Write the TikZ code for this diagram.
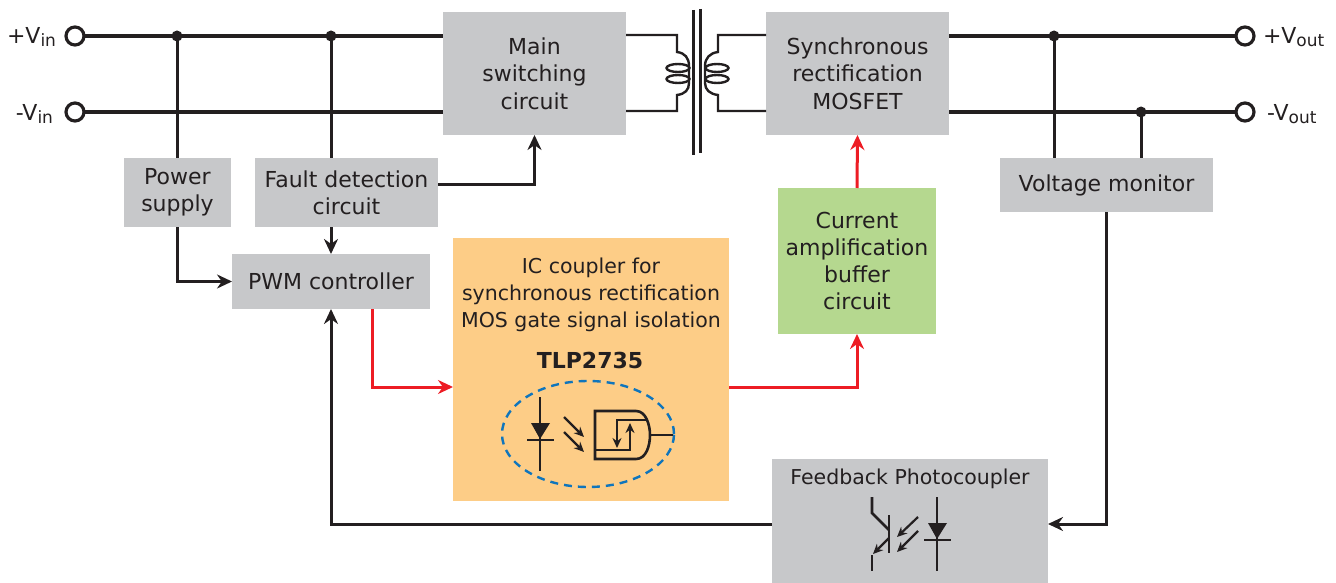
\documentclass[tikz,border=0pt]{standalone}
\usepackage{fontspec}
\setmainfont{DejaVu Sans}
\usetikzlibrary{arrows.meta,calc}
\definecolor{ink}{HTML}{231F20}
\definecolor{boxgray}{HTML}{C7C8CA}
\definecolor{boxorange}{HTML}{FDCD87}
\definecolor{boxgreen}{HTML}{B5D88F}
\definecolor{sigred}{HTML}{ED1C24}
\definecolor{dashblue}{HTML}{0F75BC}
\tikzset{
  x=1pt,y=-1pt,
  block/.style={fill=boxgray,inner sep=0pt,outer sep=0pt,align=center,text=ink,font=\fontsize{22}{27.3}\selectfont},
  txt/.style={inner sep=0pt,outer sep=0pt,align=center,text=ink,font=\fontsize{22}{27.3}\selectfont},
  rail/.style={draw=ink,line width=4pt},
  wire/.style={draw=ink,line width=3pt},
  sig/.style={draw=ink,line width=3pt,-{Stealth[length=15pt,width=14pt]}},
  redsig/.style={draw=sigred,line width=3pt,-{Stealth[length=15pt,width=14pt]}},
  term/.style={circle,draw=ink,line width=3.2pt,fill=white,minimum size=18pt,inner sep=0pt,outer sep=0pt},
  dot/.style={circle,fill=ink,minimum size=11pt,inner sep=0pt,outer sep=0pt},
  thin/.style={draw=ink,line width=2.4pt},
  icon/.style={draw=ink,line width=2.6pt},
  small/.style={draw=ink,line width=2.2pt,-{Stealth[length=10pt,width=9pt]}},
}
\newcommand{\subs}[1]{\raisebox{-3.5pt}{\fontsize{17}{17}\selectfont #1}}
\begin{document}
\begin{tikzpicture}
\useasboundingbox (0,0) rectangle (1336,583);
% blocks
\node[block,minimum width=183pt,minimum height=123pt] (main) at (534.5,73.5) {Main\\switching\\circuit};
\node[block,minimum width=183pt,minimum height=123pt] (sync) at (857.5,73.5) {Synchronous\\rectification\\MOSFET};
\node[block,minimum width=107pt,minimum height=69pt] (power) at (177.5,192.5) {Power\\supply};
\node[block,minimum width=183pt,minimum height=69pt] (fault) at (346.5,192.5) {Fault detection\\circuit};
\node[block,minimum width=198pt,minimum height=55pt] (pwm) at (331,281.5) {PWM controller};
\node[block,fill=boxorange,minimum width=276pt,minimum height=263pt] (ic) at (591,369.5) {};
\node[block,fill=boxgreen,minimum width=158pt,minimum height=146pt] (amp) at (857,261) {Current\\amplification\\buffer\\circuit};
\node[block,minimum width=213pt,minimum height=54pt] (vmon) at (1106.5,185) {Voltage monitor};
\node[block,minimum width=276pt,minimum height=124pt] (fb) at (910,521) {};
\node[txt,font=\fontsize{20.5}{27.3}\selectfont] (ictext) at (591,295) {IC coupler for\\synchronous rectification\\MOS gate signal isolation};
\node[txt,font=\fontsize{22}{27}\selectfont\bfseries] (tlp) at (590,360) {TLP2735};
\node[txt,font=\fontsize{20.5}{27}\selectfont] (fbtext) at (910,479) {Feedback Photocoupler};
% terminals and junctions
\node[term] (vinp) at (75,36) {};
\node[term] (vinn) at (75,112) {};
\node[term] (voutp) at (1245,36) {};
\node[term] (voutn) at (1245,112) {};
\node[dot] (j1) at (177,36) {};
\node[dot] (j2) at (331,36) {};
\node[dot] (j3) at (1054,36) {};
\node[dot] (j4) at (1141,112) {};
\node[txt,anchor=east] (lvinp) at (56,37) {+V\subs{in}};
\node[txt,anchor=east] (lvinn) at (53,114) {-V\subs{in}};
\node[txt,anchor=west] (lvoutp) at (1263,37) {+V\subs{out}};
\node[txt,anchor=west] (lvoutn) at (1267,114) {-V\subs{out}};
% rails
\draw[rail] (vinp) -- (main.west |- vinp);
\draw[rail] (vinn) -- (main.west |- vinn);
\draw[rail] (sync.east |- voutp) -- (voutp);
\draw[rail] (sync.east |- voutn) -- (voutn);
% wires
\draw[wire] (j1) -- (j1 |- power.north);
\draw[wire] (j2) -- (j2 |- fault.north);
\draw[wire] (j3) -- (j3 |- vmon.north);
\draw[wire] (j4) -- (j4 |- vmon.north);
\draw[sig] (j2 |- fault.south) -- (j2 |- pwm.north);
\draw[sig] (j1 |- power.south) |- (pwm.west);
\draw[sig] (fault.east |- 0,184) -| (main.south);
\draw[sig] (vmon.south) |- (fb.east |- 0,524);
\draw[sig] (fb.west |- 0,524) -| (pwm.south);
\draw[redsig] (372,309) |- (ic.west |- 0,387);
\draw[redsig] (ic.east |- 0,387) -| (amp.south);
\draw[redsig] (amp.north) -- (sync.south);
% transformer
\coordinate (tl1) at (main.east |- 0,35);
\coordinate (tl2) at (main.east |- 0,111);
\coordinate (tr1) at (sync.west |- 0,35);
\coordinate (tr2) at (sync.west |- 0,111);
\draw[draw=ink,line width=3pt] (693,10) -- (693,155);
\draw[draw=ink,line width=3pt] (700,9) -- (700,153);
\draw[thin] (tl1) -- (677,35) -- (677,52) .. controls (685,53) and (689,58) .. (689,66) -- (689,83) .. controls (689,90) and (685,94) .. (677,95) -- (677,111) -- (tl2);
\draw[thin] (tr1) -- (718,35) -- (718,52) .. controls (710,53) and (705,58) .. (705,66) -- (705,83) .. controls (705,90) and (710,94) .. (718,95) -- (718,111) -- (tr2);
\draw[thin] (678,68) ellipse (11.5pt and 4pt);
\draw[thin] (678,79) ellipse (11.5pt and 4pt);
\draw[thin] (717,68) ellipse (11.5pt and 4pt);
\draw[thin] (717,79) ellipse (11.5pt and 4pt);
% IC icon
\draw[dashblue,line width=2.4pt,dash pattern=on 8pt off 6pt] (588,434) ellipse (86pt and 53pt);
\draw[icon] (540,397) -- (540,471);
\fill[ink] (531,423) -- (550,423) -- (540,439) -- cycle;
\draw[icon] (527,440) -- (554,440);
\draw[small] (564,417) -- (584,437);
\draw[small] (564,432) -- (584,452);
\draw[icon,line join=miter] (595,411) -- (636,411) .. controls (646,411) and (650,425) .. (650,435) .. controls (650,446) and (646,459) .. (636,459) -- (595,459) -- cycle;
\draw[small] (647,420) -- (617,420) -- (617,448);
\draw[small] (595,450) -- (630,450) -- (630,423);
\draw[icon] (650,435) -- (673,435);
% feedback icon
\draw[icon] (937,497) -- (937,571);
\fill[ink] (928,523) -- (947,523) -- (937,539) -- cycle;
\draw[icon] (924,540) -- (951,540);
\draw[icon] (889,515) -- (889,553);
\draw[icon] (872,497) -- (872,513) -- (889,530);
\draw[small] (889,538) -- (873,554);
\draw[icon] (872,555) -- (872,571);
\draw[small] (918,517) -- (897,537);
\draw[small] (918,531) -- (897,552);
\end{tikzpicture}
\end{document}
